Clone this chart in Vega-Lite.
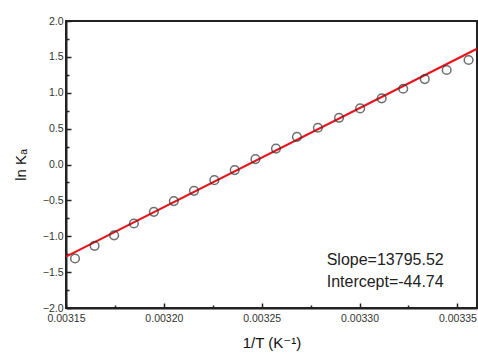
{
  "$schema": "https://vega.github.io/schema/vega-lite/v6.json",
  "autosize": "none",
  "width": 411,
  "height": 287,
  "padding": {"left": 66, "top": 21, "right": 1, "bottom": 48},
  "background": "white",
  "config": {
    "view": {"stroke": "#222", "strokeWidth": 2},
    "font": "Liberation Sans, DejaVu Sans",
    "axis": {"labelFont": "Liberation Sans", "titleFont": "Liberation Sans, DejaVu Sans", "grid": false}
  },
  "datasets": {
    "pts": [
      {"x": 0.0031546, "y": -1.31},
      {"x": 0.0031646, "y": -1.134},
      {"x": 0.0031746, "y": -0.987},
      {"x": 0.0031847, "y": -0.822},
      {"x": 0.0031949, "y": -0.66},
      {"x": 0.0032051, "y": -0.51},
      {"x": 0.0032154, "y": -0.367},
      {"x": 0.0032258, "y": -0.218},
      {"x": 0.0032362, "y": -0.078},
      {"x": 0.0032468, "y": 0.075},
      {"x": 0.0032573, "y": 0.222},
      {"x": 0.003268, "y": 0.386},
      {"x": 0.0032787, "y": 0.512},
      {"x": 0.0032895, "y": 0.651},
      {"x": 0.0033003, "y": 0.782},
      {"x": 0.0033113, "y": 0.922},
      {"x": 0.0033223, "y": 1.056},
      {"x": 0.0033333, "y": 1.191},
      {"x": 0.0033445, "y": 1.317},
      {"x": 0.0033557, "y": 1.456}
    ],
    "fit": [
      {"x": 0.00315, "y": -1.284},
      {"x": 0.00336, "y": 1.613}
    ],
    "notes": [
      {"x": 0.0032832, "y": -1.333, "t": "Slope=13795.52"},
      {"x": 0.0032832, "y": -1.64, "t": "Intercept=-44.74"}
    ]
  },
  "resolve": {"axis": {"x": "independent", "y": "independent"}},
  "layer": [
    {
      "data": {"name": "fit"},
      "mark": {"type": "line", "color": "#e8141c", "strokeWidth": 2.2, "clip": true},
      "encoding": {
        "x": {
          "field": "x", "type": "quantitative",
          "scale": {"domain": [0.00315, 0.00336], "nice": false, "zero": false},
          "axis": {
            "orient": "bottom",
            "values": [0.00315, 0.0032, 0.00325, 0.0033, 0.00335],
            "format": ".5f",
            "title": "1/T (K⁻¹)",
            "titleFontSize": 15,
            "titleFontWeight": "normal",
            "titleColor": "#111",
            "titlePadding": 12,
            "labelFontSize": 10.5,
            "labelColor": "#333",
            "labelPadding": 10,
            "labelFlush": false,
            "labelOverlap": false,
            "domainColor": "#222",
            "domainWidth": 2,
            "tickColor": "#222",
            "tickWidth": 1.5,
            "tickSize": -5
          }
        },
        "y": {
          "field": "y", "type": "quantitative",
          "scale": {"domain": [-2, 2], "nice": false, "zero": false},
          "axis": {
            "orient": "left",
            "values": [-2, -1.5, -1, -0.5, 0, 0.5, 1, 1.5, 2],
            "format": ".1f",
            "title": "ln Kₐ",
            "titleFontSize": 15,
            "titleFontWeight": "normal",
            "titleColor": "#111",
            "titlePadding": 14,
            "labelFontSize": 10.5,
            "labelColor": "#333",
            "labelPadding": 8,
            "labelFlush": false,
            "labelOverlap": false,
            "domainColor": "#222",
            "domainWidth": 2,
            "tickColor": "#222",
            "tickWidth": 1.5,
            "tickSize": -5
          }
        }
      }
    },
    {
      "data": {"name": "pts"},
      "mark": {"type": "point", "shape": "circle", "filled": false, "stroke": "#333", "strokeWidth": 1.5, "size": 75},
      "encoding": {
        "x": {
          "field": "x", "type": "quantitative",
          "axis": {
            "orient": "bottom",
            "values": [0.003175, 0.003225, 0.003275, 0.003325],
            "labels": false, "domain": false, "title": null,
            "tickColor": "#222", "tickWidth": 1.5, "tickSize": -3
          }
        },
        "y": {
          "field": "y", "type": "quantitative",
          "axis": {
            "orient": "left",
            "values": [-1.75, -1.25, -0.75, -0.25, 0.25, 0.75, 1.25, 1.75],
            "labels": false, "domain": false, "title": null,
            "tickColor": "#222", "tickWidth": 1.5, "tickSize": -3
          }
        }
      }
    },
    {
      "data": {"name": "notes"},
      "mark": {"type": "text", "align": "left", "baseline": "middle", "fontSize": 16, "color": "#222", "font": "Liberation Sans"},
      "encoding": {
        "x": {"field": "x", "type": "quantitative", "axis": null},
        "y": {"field": "y", "type": "quantitative", "axis": null},
        "text": {"field": "t"}
      }
    }
  ]
}
